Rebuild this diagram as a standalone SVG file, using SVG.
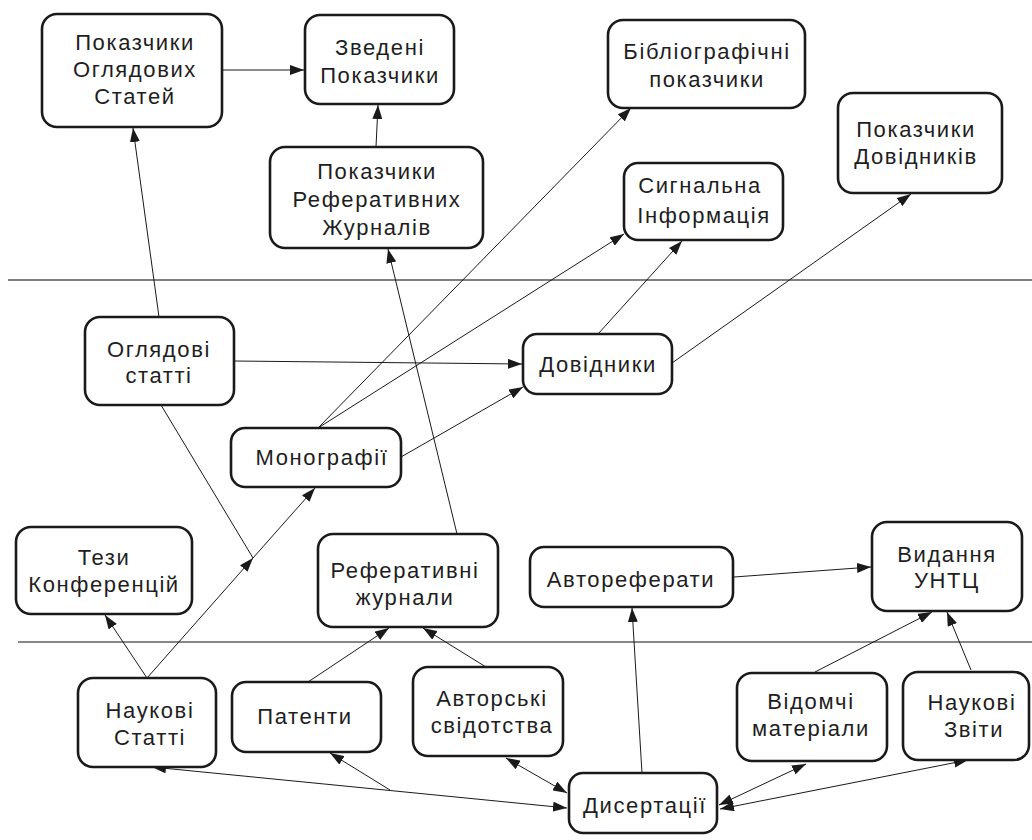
<svg xmlns="http://www.w3.org/2000/svg" width="1032" height="840" viewBox="0 0 1032 840">
<style>
.box{fill:#fff;stroke:#1a1a1a;stroke-width:2.6}
.t{font-family:"Liberation Sans",Arial,sans-serif;font-size:22px;letter-spacing:1.6px;fill:#1e1e1e;text-anchor:middle}
.c{stroke:#1a1a1a;stroke-width:1;fill:none}
.e{marker-end:url(#ah)}
.b{marker-start:url(#ah);marker-end:url(#ah)}
.sep{stroke:#555;stroke-width:1.3}
</style>
<defs>
<marker id="ah" viewBox="0 0 14 10" refX="14" refY="5" markerWidth="14" markerHeight="10" markerUnits="userSpaceOnUse" orient="auto-start-reverse">
<path d="M0,0 L14,5 L0,10 z" fill="#1a1a1a"/>
</marker>
</defs>
<rect width="1032" height="840" fill="#fff"/>
<g id="separators">
<line class="sep" x1="8" y1="280" x2="1032" y2="280"/>
<line class="sep" x1="18" y1="642" x2="1032" y2="642" style="stroke:#111;stroke-width:1"/>
</g>
<g id="connectors">
<line class="c e" x1="222" y1="70" x2="304" y2="70"/>
<line class="c e" x1="159" y1="317" x2="133" y2="128"/>
<line class="c e" x1="376" y1="147" x2="378" y2="105"/>
<line class="c e" x1="318" y1="428" x2="631" y2="108"/>
<line class="c e" x1="318" y1="428" x2="624" y2="234"/>
<line class="c e" x1="234" y1="361" x2="522" y2="364"/>
<line class="c e" x1="401" y1="457" x2="523" y2="387"/>
<line class="c e" x1="598" y1="334" x2="682" y2="241"/>
<line class="c e" x1="672" y1="363" x2="911" y2="194"/>
<line class="c e" x1="457" y1="534" x2="388" y2="249"/>
<line class="c" x1="161" y1="405" x2="253" y2="558"/>
<line class="c e" x1="147" y1="678" x2="253" y2="558"/>
<line class="c e" x1="253" y1="558" x2="315" y2="488"/>
<line class="c e" x1="147" y1="678" x2="105" y2="615"/>
<line class="c e" x1="308" y1="682" x2="389" y2="628"/>
<line class="c e" x1="486" y1="667" x2="423" y2="628"/>
<line class="c e" x1="642" y1="773" x2="632" y2="608"/>
<line class="c e" x1="815" y1="672" x2="932" y2="612"/>
<line class="c e" x1="971" y1="670" x2="947" y2="612"/>
<line class="c e" x1="734" y1="577" x2="871" y2="567"/>
<line class="c b" x1="506" y1="758" x2="567" y2="793"/>
<line class="c b" x1="152" y1="767" x2="567" y2="808"/>
<line class="c e" x1="390" y1="790" x2="330" y2="753"/>
<line class="c b" x1="806" y1="764" x2="719" y2="805"/>
<line class="c b" x1="968" y1="760" x2="720" y2="809"/>
</g>
<g id="n-pokaz-oglyad">
<rect class="box" x="42" y="14" width="180" height="113" rx="15"/>
<text class="t" x="135" y="50">Показчики</text>
<text class="t" x="135" y="77">Оглядових</text>
<text class="t" x="135" y="104">Статей</text>
</g>
<g id="n-zvedeni">
<rect class="box" x="305" y="15" width="149" height="89" rx="15"/>
<text class="t" x="380" y="55">Зведені</text>
<text class="t" x="380" y="83">Показчики</text>
</g>
<g id="n-pokaz-ref">
<rect class="box" x="270" y="147" width="213" height="101" rx="15"/>
<text class="t" x="377" y="179">Показчики</text>
<text class="t" x="377" y="207">Реферативних</text>
<text class="t" x="377" y="235">Журналів</text>
</g>
<g id="n-biblio">
<rect class="box" x="608" y="20" width="197" height="88" rx="15"/>
<text class="t" x="707" y="59">Бібліографічні</text>
<text class="t" x="707" y="87">показчики</text>
</g>
<g id="n-pokaz-dovid">
<rect class="box" x="838" y="93" width="164" height="100" rx="15"/>
<text class="t" x="916" y="137">Показчики</text>
<text class="t" x="916" y="164">Довідників</text>
</g>
<g id="n-signal">
<rect class="box" x="624" y="163" width="159" height="77" rx="14"/>
<text class="t" x="700" y="193">Сигнальна</text>
<text class="t" x="704" y="223">Інформація</text>
</g>
<g id="n-oglyad">
<rect class="box" x="85" y="317" width="149" height="88" rx="15"/>
<text class="t" x="159" y="357">Оглядові</text>
<text class="t" x="159" y="383">статті</text>
</g>
<g id="n-dovid">
<rect class="box" x="523" y="334" width="149" height="60" rx="14"/>
<text class="t" x="598" y="372">Довідники</text>
</g>
<g id="n-monogr">
<rect class="box" x="231" y="428" width="170" height="59" rx="14"/>
<text class="t" x="322" y="465">Монографії</text>
</g>
<g id="n-tezy">
<rect class="box" x="16" y="527" width="176" height="87" rx="15"/>
<text class="t" x="104" y="565">Тези</text>
<text class="t" x="104" y="592">Конференцій</text>
</g>
<g id="n-ref-zhurn">
<rect class="box" x="318" y="534" width="180" height="93" rx="15"/>
<text class="t" x="405" y="578">Реферативні</text>
<text class="t" x="405" y="605">журнали</text>
</g>
<g id="n-avtoref">
<rect class="box" x="530" y="547" width="203" height="60" rx="14"/>
<text class="t" x="631" y="587">Автореферати</text>
</g>
<g id="n-vydannya">
<rect class="box" x="872" y="522" width="150" height="89" rx="15"/>
<text class="t" x="947" y="562">Видання</text>
<text class="t" x="947" y="588">УНТЦ</text>
</g>
<g id="n-nauk-statti">
<rect class="box" x="78" y="678" width="138" height="89" rx="15"/>
<text class="t" x="150" y="718">Наукові</text>
<text class="t" x="150" y="745">Статті</text>
</g>
<g id="n-patenty">
<rect class="box" x="232" y="682" width="149" height="70" rx="14"/>
<text class="t" x="305" y="724">Патенти</text>
</g>
<g id="n-avtorski">
<rect class="box" x="413" y="667" width="150" height="89" rx="15"/>
<text class="t" x="492" y="706">Авторські</text>
<text class="t" x="492" y="733">свідотства</text>
</g>
<g id="n-dysert">
<rect class="box" x="569" y="773" width="148" height="60" rx="14"/>
<text class="t" x="645" y="813">Дисертації</text>
</g>
<g id="n-vidomchi">
<rect class="box" x="737" y="673" width="150" height="88" rx="15"/>
<text class="t" x="811" y="709">Відомчі</text>
<text class="t" x="811" y="736">матеріали</text>
</g>
<g id="n-nauk-zvity">
<rect class="box" x="903" y="672" width="126" height="88" rx="15"/>
<text class="t" x="972" y="710">Наукові</text>
<text class="t" x="974" y="737">Звіти</text>
</g>
</svg>
